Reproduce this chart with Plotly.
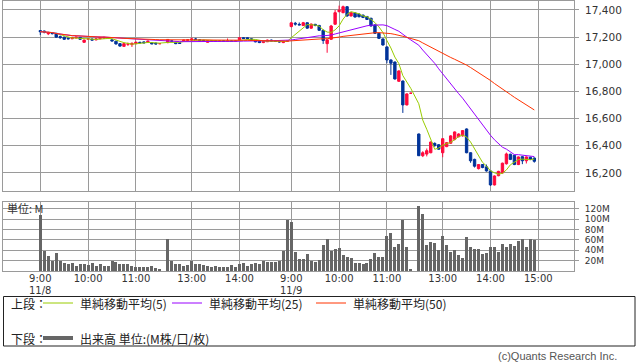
import plotly.graph_objects as go
import pandas as pd

# ---------------- data ----------------
# 5-minute candles, 11/8 (full day) and 11/9 (until 14:55)
day1_open = [17248, 17245, 17225, 17232, 17228, 17204, 17200, 17192, 17188, 17194,
             17198, 17162, 17186, 17186, 17180, 17188, 17192, 17196, 17180, 17170,
             17152, 17132, 17148, 17145, 17152, 17162, 17165, 17163, 17160, 17156, 17152,
             17160, 17172, 17162, 17158, 17170, 17176, 17178, 17186, 17180, 17176,
             17162, 17172, 17172, 17170, 17172, 17168, 17172, 17168, 17180, 17196,
             17196, 17188, 17176, 17170, 17160, 17166, 17178, 17172, 17166, 17160, 17170]
day1_high = [17252, 17248, 17240, 17236, 17232, 17212, 17204, 17196, 17200, 17202,
             17200, 17182, 17192, 17190, 17190, 17200, 17202, 17200, 17184, 17172,
             17156, 17156, 17160, 17160, 17166, 17166, 17168, 17174, 17164, 17160, 17156,
             17186, 17178, 17166, 17162, 17180, 17184, 17196, 17194, 17184, 17180,
             17178, 17176, 17174, 17176, 17174, 17190, 17175, 17175, 17200, 17200,
             17198, 17192, 17180, 17172, 17172, 17182, 17182, 17176, 17170, 17170, 17172]
day1_low = [17215, 17228, 17215, 17220, 17196, 17188, 17180, 17182, 17185, 17190,
            17180, 17158, 17180, 17176, 17176, 17184, 17190, 17186, 17168, 17145,
            17130, 17130, 17135, 17128, 17148, 17155, 17155, 17160, 17148, 17146, 17148,
            17155, 17165, 17148, 17150, 17166, 17172, 17175, 17178, 17168, 17168,
            17160, 17168, 17166, 17168, 17166, 17166, 17165, 17166, 17178, 17186,
            17184, 17174, 17162, 17156, 17156, 17164, 17170, 17164, 17160, 17156, 17166]
day1_close = [17240, 17238, 17230, 17226, 17200, 17196, 17184, 17188, 17198, 17200,
              17184, 17178, 17188, 17178, 17187, 17198, 17198, 17190, 17172, 17150,
              17134, 17152, 17150, 17155, 17163, 17158, 17158, 17170, 17150, 17150, 17152,
              17183, 17170, 17152, 17154, 17178, 17180, 17187, 17184, 17172, 17172,
              17175, 17172, 17170, 17172, 17170, 17172, 17168, 17172, 17196, 17190,
              17188, 17176, 17165, 17160, 17170, 17178, 17172, 17168, 17166, 17168, 17170]
day1_volume = [108, 38, 28.5, 20, 34, 20, 15, 14, 15, 9,
               13, 13, 11, 15, 9, 13, 9, 10, 19, 17,
               13, 13, 13, 9, 7, 7, 7, 7, 9, 5, 3,
               61, 19, 13, 13, 9, 11, 20, 13, 13, 11,
               9, 7, 9, 7, 7, 7, 11, 7, 13, 15,
               9, 13, 15, 13, 20, 17, 17, 17, 20, 38, 98]

day2_open = [17278, 17302, 17294, 17285, 17306, 17266, 17294, 17286, 17250, 17152,
             17184, 17295, 17388, 17380, 17424, 17356, 17378, 17370, 17362, 17352,
             17339, 17290, 17228, 17187, 17128, 17032, 17017, 16875, 16877, 16701, 16787,
             16487, 16327, 16339, 16349, 16418, 16408, 16349, 16394, 16419, 16448,
             16467, 16473, 16524, 16349, 16300, 16232, 16262, 16245, 16215, 16112,
             16180, 16200, 16268, 16338, 16330, 16262, 16320, 16290, 16316, 16310]
day2_high = [17310, 17312, 17308, 17312, 17308, 17300, 17298, 17290, 17256, 17184,
             17290, 17400, 17432, 17432, 17428, 17385, 17382, 17374, 17366, 17356,
             17342, 17294, 17232, 17190, 17132, 17036, 17020, 16956, 16880, 16786, 16790,
             16490, 16360, 16380, 16432, 16425, 16412, 16456, 16428, 16478, 16506,
             16492, 16516, 16528, 16352, 16305, 16266, 16266, 16262, 16218, 16182,
             16216, 16276, 16350, 16342, 16334, 16322, 16324, 16322, 16320, 16314]
day2_low = [17272, 17285, 17288, 17282, 17262, 17262, 17280, 17246, 17150, 17085,
            17180, 17290, 17382, 17376, 17350, 17352, 17344, 17346, 17340, 17326,
            17278, 17224, 17186, 17138, 17008, 16922, 16888, 16870, 16642, 16697, 16784,
            16325, 16317, 16322, 16345, 16392, 16370, 16316, 16390, 16414, 16440,
            16462, 16468, 16345, 16275, 16240, 16226, 16235, 16210, 16105, 16108,
            16176, 16196, 16262, 16295, 16258, 16258, 16265, 16270, 16295, 16276]
day2_close = [17305, 17296, 17290, 17306, 17266, 17296, 17286, 17250, 17175, 17180,
              17282, 17380, 17398, 17424, 17356, 17380, 17348, 17350, 17345, 17330,
              17282, 17228, 17191, 17142, 17032, 17008, 16892, 16951, 16701, 16782, 16787,
              16327, 16349, 16364, 16428, 16403, 16375, 16452, 16423, 16473, 16502,
              16487, 16512, 16349, 16290, 16250, 16262, 16240, 16215, 16112, 16178,
              16212, 16272, 16340, 16300, 16262, 16318, 16290, 16318, 16300, 16286]
day2_volume = [94, 36, 22.7, 22.7, 32, 19, 17, 21, 50, 61,
               38, 42, 44, 30.5, 26.5, 24.6, 15, 15, 13, 15,
               22.7, 34, 26.5, 26.5, 67, 73, 46, 52, 98, 46, 3,
               125.6, 110, 50, 56, 54, 40, 67, 50, 36, 40,
               30.5, 24.6, 65, 46, 42, 42, 32, 34, 46, 46,
               36, 52, 46, 52, 48, 58, 61, 46, 61, 60]

tick_slots = ["11/8 9:00", "11/8 10:00", "11/8 11:00", "11/8 13:00", "11/8 14:00",
              "11/9 9:00", "11/9 10:00", "11/9 11:00", "11/9 13:00", "11/9 14:00", "11/9 15:00"]
tick_labels = ["9:00", "10:00", "11:00", "13:00", "14:00",
               "9:00", "10:00", "11:00", "13:00", "14:00", "15:00"]
date_slots = ["11/8 9:00", "11/9 9:00"]
date_labels = ["11/8", "11/9"]
price_ticks = [16200, 16400, 16600, 16800, 17000, 17200, 17400]
volume_ticks = [20, 40, 60, 80, 100, 120]
volume_tick_labels = ["20M", "40M", "60M", "80M", "100M", "120M"]
ma_periods = [5, 25, 50]

# ---------------- category slots (5-minute time axis) ----------------
def session(day, h, m, n):
    out = []
    for k in range(n):
        t = h * 60 + m + 5 * k
        out.append(f"{day} {t // 60}:{t % 60:02d}")
    return out

d1_am = session("11/8", 9, 0, 31)
d1_pm = session("11/8", 12, 30, 31)
d2_am = session("11/9", 9, 0, 31)
d2_pm = session("11/9", 12, 30, 30)
bar_x = d1_am + d1_pm + d2_am + d2_pm
slots = d1_am + ["11/8 11:35"] + d1_pm + d2_am + ["11/9 11:35"] + d2_pm + ["11/9 15:00"]

opens = day1_open + day2_open
highs = day1_high + day2_high
lows = day1_low + day2_low
closes = day1_close + day2_close
volumes = day1_volume + day2_volume

close_s = pd.Series(closes)
ma = {p: close_s.rolling(p, min_periods=1).mean().round(1).tolist() for p in ma_periods}

RED = "#ff0a3c"
BLUE = "#003399"
GRID = "#9a9a9a"
MA_COLORS = {5: "#99cc00", 25: "#9900ff", 50: "#ff3300"}
TICKFONT = dict(family="DejaVu Sans", size=10, color="#333333")

fig = go.Figure()
fig.add_trace(go.Candlestick(
    x=bar_x, open=opens, high=highs, low=lows, close=closes,
    increasing=dict(line=dict(color=RED, width=1), fillcolor=RED),
    decreasing=dict(line=dict(color=BLUE, width=1), fillcolor=BLUE),
    xaxis="x", yaxis="y", showlegend=False, hoverinfo="skip"))
for p in ma_periods:
    fig.add_trace(go.Scatter(x=bar_x, y=ma[p], mode="lines",
                             line=dict(color=MA_COLORS[p], width=1),
                             xaxis="x", yaxis="y", showlegend=False, hoverinfo="skip"))
fig.add_trace(go.Bar(x=bar_x, y=volumes, marker=dict(color="#666666", line=dict(width=0)),
                     width=0.75, xaxis="x2", yaxis="y2", showlegend=False, hoverinfo="skip"))

# layout geometry (pixels)
W, H = 638, 362
L, R, T, B = 3, 64, 1, 91
pw, ph = W - L - R, H - T - B

def px(x):
    return (x - L) / pw

def py(y):
    return (H - B - y) / ph

xr = [-9.36, 133.96]
common_x = dict(type="category", categoryorder="array", categoryarray=slots,
                range=xr, tickvals=tick_slots, showgrid=True, gridcolor=GRID, gridwidth=1,
                showline=True, linecolor=GRID, linewidth=1, mirror=True, ticks="",
                zeroline=False, fixedrange=True)

fig.update_layout(
    width=W, height=H, margin=dict(l=L, r=R, t=T, b=B),
    paper_bgcolor="white", plot_bgcolor="white", hovermode=False,
    bargap=0, boxgap=0.15,
    xaxis=dict(common_x, domain=[0, 1], anchor="y", showticklabels=False,
               rangeslider=dict(visible=False)),
    yaxis=dict(domain=[py(190.5), 1], range=[16071, 17466], side="right",
               tickvals=price_ticks, tickformat=",d", showgrid=True, gridcolor=GRID,
               showline=True, linecolor=GRID, mirror=True, ticks="outside", ticklen=4,
               tickcolor=GRID, ticklabelstandoff=4,
               tickfont=dict(family="DejaVu Sans", size=10.5, color="#333333"),
               zeroline=False, anchor="x"),
    xaxis2=dict(common_x, domain=[0, 1], anchor="y2", showticklabels=True,
                ticktext=tick_labels, tickfont=TICKFONT, ticklabelstandoff=-2),
    yaxis2=dict(domain=[0, py(202)], range=[0, 133.4], side="right",
                tickvals=volume_ticks, ticktext=volume_tick_labels, showgrid=True,
                gridcolor=GRID, showline=True, linecolor=GRID, mirror=True,
                ticks="outside", ticklen=4, tickcolor=GRID, ticklabelstandoff=4,
                tickfont=dict(family="DejaVu Sans", size=9, color="#333333"),
                zeroline=False, anchor="x2"),
)

CJK = "Noto Sans CJK JP"
shapes = []
annots = []

def text(x, y, s, size=12, color="#222222", family=CJK, xanchor="left"):
    annots.append(dict(x=px(x), y=py(y), xref="paper", yref="paper", text=s,
                       showarrow=False, xanchor=xanchor, yanchor="middle",
                       font=dict(family=family, size=size, color=color)))

def hline(x0, x1, y, color, width):
    shapes.append(dict(type="line", xref="paper", yref="paper", x0=px(x0), x1=px(x1),
                       y0=py(y), y1=py(y), line=dict(color=color, width=width)))

# date labels under the 9:00 ticks
for s, lab in zip(date_slots, date_labels):
    annots.append(dict(x=s, xref="x2", y=py(291), yref="paper", text=lab,
                       showarrow=False, xanchor="center", yanchor="middle",
                       borderpad=0, font=TICKFONT))

text(5, 208, "単位: M", size=11, color="#333333")
shapes.append(dict(type="rect", xref="paper", yref="paper", x0=px(3.5), x1=px(635),
                   y0=py(296.5), y1=py(346), line=dict(color="#222222", width=1)))
text(9, 303, "上段：")
hline(43, 73, 303, MA_COLORS[5], 1)
text(78, 303, "単純移動平均(5)")
hline(172, 202, 303, MA_COLORS[25], 1)
text(207, 303, "単純移動平均(25)")
hline(316, 346, 303, MA_COLORS[50], 1)
text(351, 303, "単純移動平均(50)")
text(9, 338, "下段：")
hline(43, 73, 338, "#666666", 4)
text(78, 338, "出来高 単位:(M株/口/枚)")
text(619, 356, "(c)Quants Research Inc.", size=11, color="#555555",
     family="Liberation Sans", xanchor="right")

fig.update_layout(shapes=shapes, annotations=annots)
fig.write_html("out.html")
